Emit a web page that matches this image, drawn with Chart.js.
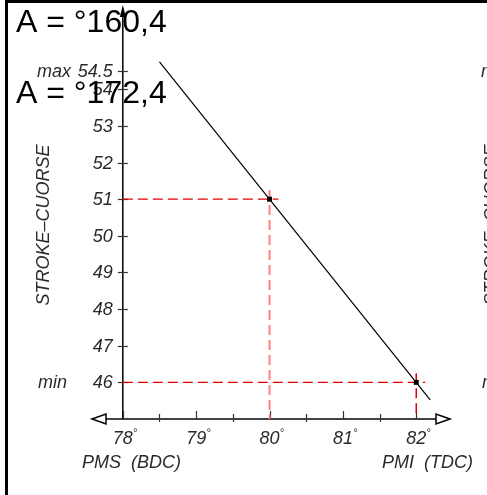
<!DOCTYPE html>
<html>
<head>
<meta charset="utf-8">
<script src="https://cdn.jsdelivr.net/npm/chart.js@4.4.1/dist/chart.umd.min.js"></script>
<style>
  html, body { margin: 0; padding: 0; background: #fff; }
</style>
</head>
<body>
<canvas id="strokeChart" width="487" height="495"></canvas>
<script>
// values
var angleTitles = ["A = °160,4", "A = °172,4"];
var xTicks = [78, 79, 80, 81, 82];
var xMinorTicks = [78.5, 79.5, 80.5, 81.5];
var yTicks = [46, 47, 48, 49, 50, 51, 52, 53, 54, 54.5];
var yTickLabels = ["46", "47", "48", "49", "50", "51", "52", "53", "54", "54.5"];
var lineX = [78.5, 82.19];
var lineY = [54.75, 45.525];
var pointX = [80, 82];
var pointY = [51, 46];

var xLabelLeft = "PMS  (BDC)";
var xLabelRight = "PMI  (TDC)";
var yTitle = "STROKE\u2013CUORSE";

var X0 = 78, Y0 = 45;

function guide(i, horizontal) {
  if (horizontal) {
    return [{ x: X0, y: pointY[i] }, { x: pointX[i] + 0.12, y: pointY[i] }];
  }
  return [{ x: pointX[i], y: pointY[i] + 0.25 }, { x: pointX[i], y: Y0 }];
}

var tickFont = "italic 18px 'Liberation Sans', Arial, sans-serif";

var drawingPlugin = {
  id: "drawing",
  beforeDatasetsDraw: function (chart) {
    var ctx = chart.ctx;
    var sx = chart.scales.x, sy = chart.scales.y;
    var ax = sx.getPixelForValue(X0), ay = sy.getPixelForValue(Y0);
    var left = chart.chartArea.left, right = chart.chartArea.right, top = chart.chartArea.top;
    ctx.save();

    // frame
    ctx.fillStyle = "#000";
    ctx.fillRect(5, 0, 3, 495);
    ctx.fillRect(5, 0, 482, 3);

    // x axis
    ctx.strokeStyle = "#444";
    ctx.lineWidth = 2;
    ctx.beginPath();
    ctx.moveTo(left + 12, ay);
    ctx.lineTo(right - 12, ay);
    ctx.stroke();
    // open arrows
    ctx.lineWidth = 1.5;
    ctx.strokeStyle = "#000";
    ctx.fillStyle = "#fff";
    ctx.beginPath();
    ctx.moveTo(left, ay);
    ctx.lineTo(left + 14, ay - 5);
    ctx.lineTo(left + 14, ay + 5);
    ctx.closePath();
    ctx.fill(); ctx.stroke();
    ctx.beginPath();
    ctx.moveTo(right, ay);
    ctx.lineTo(right - 14, ay - 5);
    ctx.lineTo(right - 14, ay + 5);
    ctx.closePath();
    ctx.fill(); ctx.stroke();

    // y axis with filled arrow
    ctx.strokeStyle = "#000";
    ctx.lineWidth = 1.5;
    ctx.beginPath();
    ctx.moveTo(ax, ay);
    ctx.lineTo(ax, top + 8);
    ctx.stroke();
    ctx.fillStyle = "#000";
    ctx.beginPath();
    ctx.moveTo(ax, top);
    ctx.lineTo(ax - 3, top + 12);
    ctx.lineTo(ax + 3, top + 12);
    ctx.closePath();
    ctx.fill();

    // x ticks
    ctx.strokeStyle = "#333";
    ctx.lineWidth = 1.2;
    xTicks.forEach(function (v) {
      var px = Math.round(sx.getPixelForValue(v)) + 0.5;
      ctx.beginPath(); ctx.moveTo(px, ay - 8); ctx.lineTo(px, ay); ctx.stroke();
    });
    xMinorTicks.forEach(function (v) {
      var px = Math.round(sx.getPixelForValue(v)) + 0.5;
      ctx.beginPath(); ctx.moveTo(px, ay - 5); ctx.lineTo(px, ay + 3); ctx.stroke();
    });
    // y ticks
    yTicks.forEach(function (v) {
      var py = Math.round(sy.getPixelForValue(v)) + 0.5;
      ctx.beginPath(); ctx.moveTo(ax - 5, py); ctx.lineTo(ax + 5, py); ctx.stroke();
    });
    ctx.restore();
  },
  afterDraw: function (chart) {
    var ctx = chart.ctx;
    var sx = chart.scales.x, sy = chart.scales.y;
    var ax = sx.getPixelForValue(X0), ay = sy.getPixelForValue(Y0);
    ctx.save();
    ctx.fillStyle = "#2a2a2a";
    ctx.font = tickFont;
    ctx.textBaseline = "middle";

    // y tick labels
    ctx.textAlign = "right";
    yTicks.forEach(function (v, i) {
      ctx.fillText(yTickLabels[i], ax - 10, sy.getPixelForValue(v) + 1);
    });
    ctx.textAlign = "left";
    var yMax = sy.getPixelForValue(yTicks[yTicks.length - 1]) + 1;
    var yMin = sy.getPixelForValue(yTicks[0]) + 1;
    ctx.fillText("max", 37, yMax);
    ctx.fillText("min", 38, yMin);
    // cut-off copy of the next drawing at the right edge
    ctx.fillText("max", 481, yMax);
    ctx.fillText("min", 482, yMin);

    // x tick labels with degree mark
    xTicks.forEach(function (v) {
      var px = sx.getPixelForValue(v);
      ctx.font = tickFont;
      ctx.textAlign = "center";
      ctx.fillText(String(v), px, ay + 20);
      ctx.font = "italic 11px 'Liberation Sans', Arial, sans-serif";
      ctx.textAlign = "left";
      ctx.fillText("°", px + 10, ay + 14);
    });

    ctx.font = tickFont;
    ctx.textAlign = "left";
    ctx.fillText(xLabelLeft, 82, ay + 44);
    ctx.fillText(xLabelRight, 382, ay + 44);

    // vertical title
    [44, 492].forEach(function (tx) {
      ctx.save();
      ctx.translate(tx, 225);
      ctx.rotate(-Math.PI / 2);
      ctx.textAlign = "center";
      ctx.fillText(yTitle, 0, 0);
      ctx.restore();
    });

    // angle titles
    ctx.fillStyle = "#000";
    ctx.font = "32px 'Liberation Sans', Arial, sans-serif";
    ctx.textAlign = "left";
    ctx.textBaseline = "alphabetic";
    ctx.fillText(angleTitles[0], 16, 32);
    ctx.fillText(angleTitles[1], 16, 103);
    ctx.restore();
  }
};

var ctx = document.getElementById("strokeChart").getContext("2d");

var strokeChart = new Chart(ctx, {
  type: "scatter",
  data: {
    datasets: [
      {
        data: guide(0, true),
        showLine: true,
        borderColor: "#e00000",
        borderWidth: 1.2,
        borderDash: [10, 5],
        pointRadius: 0,
        order: 2,
      },
      {
        data: guide(0, false),
        showLine: true,
        borderColor: "#ff8080",
        borderWidth: 2,
        borderDash: [10, 5],
        pointRadius: 0,
        order: 3,
      },
      {
        data: guide(1, true),
        showLine: true,
        borderColor: "#e00000",
        borderWidth: 1.2,
        borderDash: [10, 5],
        pointRadius: 0,
        order: 2,
      },
      {
        data: guide(1, false),
        showLine: true,
        borderColor: "#e00000",
        borderWidth: 1.5,
        borderDash: [10, 5],
        pointRadius: 0,
        order: 2,
      },
      {
        data: lineX.map(function (x, i) { return { x: x, y: lineY[i] }; }),
        showLine: true,
        borderColor: "#000",
        borderWidth: 1.2,
        pointRadius: 0,
        order: 1,
      },
      {
        data: pointX.map(function (x, i) { return { x: x, y: pointY[i] }; }),
        pointStyle: "rect",
        pointRadius: 3.5,
        backgroundColor: "#000",
        borderColor: "#000",
        borderWidth: 0,
        order: 0,
      },
    ],
  },
  options: {
    responsive: false,
    animation: false,
    layout: { padding: { left: 92, right: 37, top: 5, bottom: 76 } },
    plugins: { legend: { display: false }, tooltip: { enabled: false } },
    scales: {
      x: { type: "linear", min: 77.58, max: 82.46, display: false },
      y: { type: "linear", min: 45, max: 56.3, display: false },
    },
  },
  plugins: [drawingPlugin],
});
</script>
</body>
</html>
